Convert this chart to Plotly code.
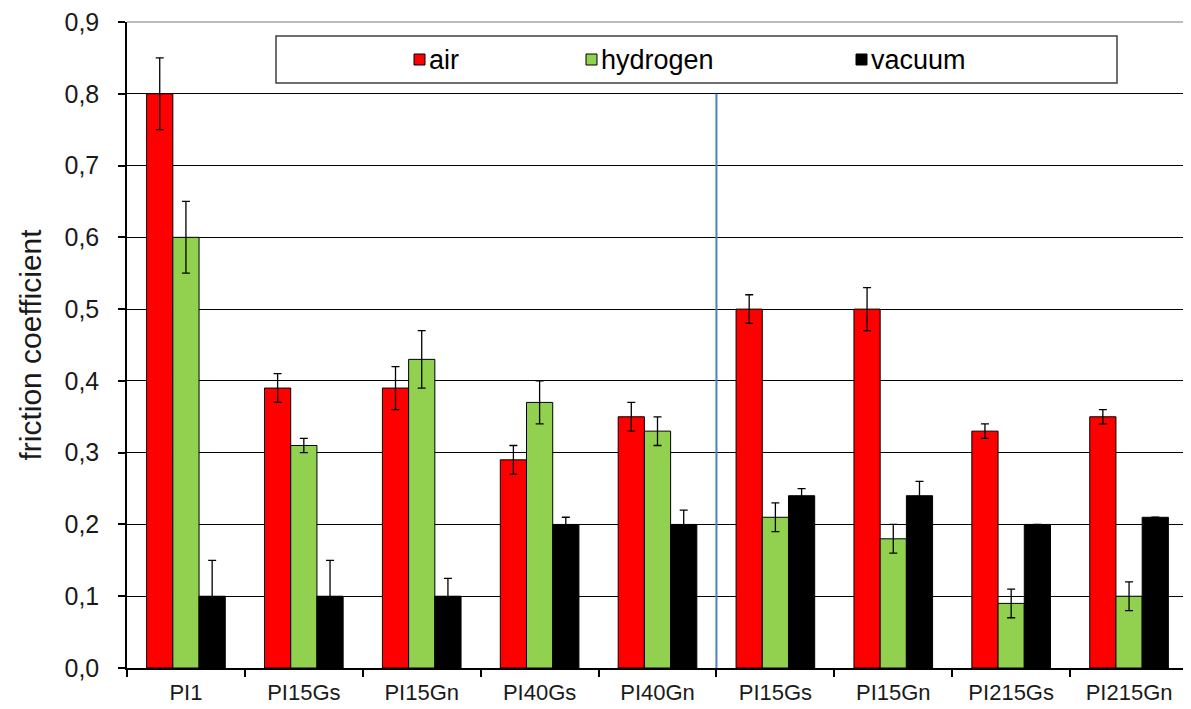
import plotly.graph_objects as go
import numpy as np

# ---- data ----
categories = ["PI1", "PI15Gs", "PI15Gn", "PI40Gs", "PI40Gn",
              "PI15Gs", "PI15Gn", "PI215Gs", "PI215Gn"]
air = [0.80, 0.39, 0.39, 0.29, 0.35, 0.50, 0.50, 0.33, 0.35]
air_err = [0.05, 0.02, 0.03, 0.02, 0.02, 0.02, 0.03, 0.01, 0.01]
hydrogen = [0.60, 0.31, 0.43, 0.37, 0.33, 0.21, 0.18, 0.09, 0.10]
hydrogen_err = [0.05, 0.01, 0.04, 0.03, 0.02, 0.02, 0.02, 0.02, 0.02]
vacuum = [0.10, 0.10, 0.10, 0.20, 0.20, 0.24, 0.24, 0.20, 0.21]
vacuum_err = [0.05, 0.05, 0.025, 0.01, 0.02, 0.01, 0.02, 0.0, 0.0]
y_ticks = [0.0, 0.1, 0.2, 0.3, 0.4, 0.5, 0.6, 0.7, 0.8, 0.9]
series_names = ["air", "hydrogen", "vacuum"]
series_colors = ["#ff0000", "#92d050", "#000000"]

# page has an 8px body margin; figure sized so the plot lands where the reference has it
OFF = 8
W, H = 1191 - OFF, 709 - OFF
ML, MR, MT, MB = 127 - OFF, 3, 22 - OFF, 41
PW, PH = W - ML - MR, H - MT - MB

def px_x(px):
    # px in window coordinates
    return (px - OFF - ML) / PW

def px_y(py):
    return (H - MB - (py - OFF)) / PH

x = np.arange(len(categories))
FONT = "Liberation Sans, Arial, sans-serif"

fig = go.Figure()
for name, vals, errs, col in zip(series_names, [air, hydrogen, vacuum],
                                 [air_err, hydrogen_err, vacuum_err], series_colors):
    fig.add_trace(go.Bar(
        x=x, y=vals, name=name,
        marker=dict(color=col, line=dict(color="#000000", width=1)),
        error_y=dict(type="data", array=errs, visible=True,
                     color="#000000", thickness=1.3, width=4),
        showlegend=False,
    ))

shapes = []
# separator line
shapes.append(dict(type="line", xref="x", yref="y", x0=4.5, x1=4.5, y0=0, y1=0.8,
                   line=dict(color="#4f81bd", width=2), layer="above"))
# plot-area border (top & right)
shapes.append(dict(type="line", xref="paper", yref="paper", x0=0, x1=1, y0=1, y1=1,
                   line=dict(color="#a6a6a6", width=1.5), layer="above"))
shapes.append(dict(type="line", xref="paper", yref="paper", x0=1, x1=1, y0=0, y1=1,
                   line=dict(color="#a6a6a6", width=1.5), layer="above"))
# legend box
shapes.append(dict(type="rect", xref="paper", yref="paper",
                   x0=px_x(276), x1=px_x(1117), y0=px_y(83), y1=px_y(36),
                   fillcolor="#ffffff", line=dict(color="#404040", width=1.5), layer="above"))

annotations = []
legend_sq_px = [414, 586, 856]
for name, col, sx in zip(series_names, series_colors, legend_sq_px):
    shapes.append(dict(type="rect", xref="paper", yref="paper",
                       x0=px_x(sx), x1=px_x(sx + 11), y0=px_y(65), y1=px_y(54),
                       fillcolor=col, line=dict(color="#000000", width=1), layer="above"))
    annotations.append(dict(xref="paper", yref="paper", x=px_x(sx + 13), y=px_y(59.5),
                            text=name, showarrow=False, xanchor="left", yanchor="middle",
                            font=dict(family=FONT, size=27, color="#000000")))

fig.update_layout(
    width=W, height=H,
    margin=dict(l=ML, r=MR, t=MT, b=MB, autoexpand=False),
    paper_bgcolor="#ffffff", plot_bgcolor="#ffffff",
    barmode="group", bargap=0.333, bargroupgap=0,
    separators=", ",
    font=dict(family=FONT, color="#000000"),
    shapes=shapes, annotations=annotations,
    xaxis=dict(
        range=[-0.5, len(categories) - 0.5],
        tickmode="array", tickvals=x, ticktext=categories,
        ticks="", showgrid=False, zeroline=False,
        showline=True, linecolor="#000000", linewidth=1.5,
        tickfont=dict(family=FONT, size=22, color="#1a1a1a"),
        ticklabelstandoff=4,
        minor=dict(tickmode="array", tickvals=list(np.arange(len(categories) + 1) - 0.5),
                   ticks="outside", ticklen=7, tickcolor="#000000", tickwidth=1.5,
                   showgrid=False),
        automargin=False,
    ),
    yaxis=dict(
        range=[0, 0.9],
        tickmode="array", tickvals=y_ticks, tickformat=".1f",
        ticks="outside", ticklen=7, tickcolor="#000000", tickwidth=1.5,
        showgrid=True, gridcolor="#000000", gridwidth=1,
        zeroline=False,
        showline=True, linecolor="#000000", linewidth=1.5,
        tickfont=dict(family=FONT, size=25, color="#1a1a1a"),
        ticklabelstandoff=14,
        ticklabeloverflow="allow",
        title=dict(text="friction coefficient", standoff=14,
                   font=dict(family=FONT, size=30, color="#1a1a1a")),
        automargin=False,
    ),
)

fig.write_html("out.html")
